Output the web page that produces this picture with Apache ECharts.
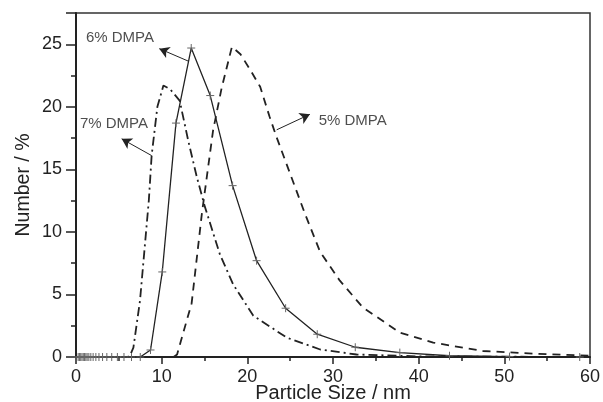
<!DOCTYPE html>
<html>
<head>
<meta charset="utf-8">
<script src="https://cdn.jsdelivr.net/npm/echarts@6/dist/echarts.min.js"></script>
<style>
  html, body { margin: 0; padding: 0; background: #fff; }
  #chart { width: 603px; height: 402px; }
</style>
</head>
<body>
<div id="chart"></div>
<script>
// 5% DMPA (dashed)
const dmpa5 = [
  [0, 0], [11.4, 0], [11.8, 0.2], [13.5, 4.3], [14.7, 11.5], [16.0, 18.1], [17.0, 21.5],
  [18.2, 24.8], [19.2, 24.2], [20.3, 23.0], [21.5, 21.6], [22.6, 19.2], [23.4, 17.6],
  [26.7, 11.5], [28.5, 8.4], [30.8, 6.1], [33.5, 3.95], [37.8, 1.95], [41.7, 1.15],
  [47.5, 0.48], [53.4, 0.27], [60, 0.1]
];

// 6% DMPA (solid, + markers)
const dmpa6 = [
  [0.25, 0], [0.4, 0], [0.55, 0], [0.7, 0], [0.85, 0], [1.0, 0], [1.15, 0], [1.3, 0],
  [1.5, 0], [1.73, 0], [2.0, 0], [2.32, 0], [2.68, 0], [3.1, 0], [3.6, 0], [4.17, 0],
  [4.83, 0], [5.6, 0], [6.48, 0], [7.5, 0], [8.7, 0.56], [10.07, 6.8], [11.67, 18.7],
  [13.45, 24.7], [15.67, 20.9], [18.28, 13.7], [21.08, 7.7], [24.47, 3.9], [28.16, 1.82],
  [32.6, 0.78], [37.8, 0.35], [43.6, 0.1], [50.6, 0.03], [58.8, 0]
];

// 7% DMPA (dash-dot)
const dmpa7 = [
  [0, 0], [6.0, 0], [6.3, 0.1], [6.7, 0.75], [7.47, 4.5], [8.5, 12.5], [8.83, 16.1],
  [9.5, 20.0], [10.2, 21.7], [11.0, 21.4], [12.1, 20.5], [13.1, 17.3], [14.1, 14.4],
  [15.05, 12.0], [16.8, 8.2], [18.35, 5.8], [20.7, 3.3], [24.6, 1.55], [28.5, 0.6],
  [32.75, 0.2], [40, 0.05], [60, 0]
];

// annotations
const labelText = ['6% DMPA', '7% DMPA', '5% DMPA'];
const labelPos = [[5.13, 25.5], [4.43, 18.67], [32.3, 18.9]];
const arrowFrom = [[13.09, 23.66], [8.83, 16.1], [23.42, 18.16]];
const arrowTo = [[9.72, 24.65], [5.33, 17.44], [27.3, 19.4]];

const xTicks = { min: 0, max: 60, interval: 10 };
const yTicks = { min: 0, max: 27.5, interval: 5 };

const ink = '#222';
const font = 'Liberation Sans, Arial, sans-serif';

const chart = echarts.init(document.getElementById('chart'));

const plus = 'path://M0,5L10,5M5,0L5,10';

chart.setOption({
  animation: false,
  grid: {
    left: 76, right: 13, top: 13, bottom: 45,
    outerBoundsMode: 'none',
    show: true, borderColor: '#333', borderWidth: 1.5
  },
  xAxis: {
    type: 'value',
    min: xTicks.min, max: xTicks.max, interval: xTicks.interval,
    name: 'Particle Size / nm',
    nameLocation: 'middle',
    nameGap: 26,
    nameMoveOverlap: false,
    nameTextStyle: { color: ink, fontSize: 20, fontFamily: font },
    axisLine: { lineStyle: { color: ink, width: 2 } },
    axisTick: { length: 7, lineStyle: { color: ink, width: 1.5 } },
    minorTick: { show: true, splitNumber: 2, length: 4, lineStyle: { color: ink, width: 1.5 } },
    splitLine: { show: false },
    axisLabel: { color: ink, fontSize: 18, fontFamily: font, margin: 11 }
  },
  yAxis: {
    type: 'value',
    min: yTicks.min, max: yTicks.max, interval: yTicks.interval,
    name: 'Number / %',
    nameLocation: 'middle',
    nameGap: 42,
    nameMoveOverlap: false,
    nameTextStyle: { color: ink, fontSize: 19.5, fontFamily: font },
    axisLine: { show: true, lineStyle: { color: ink, width: 2 } },
    axisTick: { show: true, length: 10, lineStyle: { color: ink, width: 1.5 } },
    minorTick: { show: true, splitNumber: 2, length: 5, lineStyle: { color: ink, width: 1.5 } },
    splitLine: { show: false },
    axisLabel: { color: ink, fontSize: 18, fontFamily: font, margin: 14, showMaxLabel: false }
  },
  series: [
    {
      name: '5% DMPA', type: 'line', data: dmpa5, showSymbol: false, symbol: 'none',
      lineStyle: { color: ink, width: 1.8, type: [8, 6] }
    },
    {
      name: '7% DMPA', type: 'line', data: dmpa7, showSymbol: false, symbol: 'none',
      lineStyle: { color: ink, width: 1.8, type: [9, 4, 2, 4] }
    },
    {
      name: '6% DMPA', type: 'line', data: dmpa6,
      symbol: plus, symbolSize: 8, showSymbol: true,
      itemStyle: { color: 'none', borderColor: '#666', borderWidth: 1 },
      lineStyle: { color: ink, width: 1.3 },
      markLine: {
        silent: true,
        symbol: ['none', 'arrow'],
        symbolSize: [9, 10],
        lineStyle: { color: ink, width: 1, type: 'solid' },
        label: { show: false },
        data: arrowFrom.map((f, i) => [{ coord: f }, { coord: arrowTo[i] }])
      }
    },
    {
      name: 'labels', type: 'scatter', symbolSize: 0, silent: true,
      data: labelPos.map((p, i) => ({ value: p, name: labelText[i] })),
      label: {
        show: true, position: 'inside', formatter: p => p.name,
        color: ink, fontSize: 15, fontFamily: font
      }
    }
  ]
});
</script>
</body>
</html>
